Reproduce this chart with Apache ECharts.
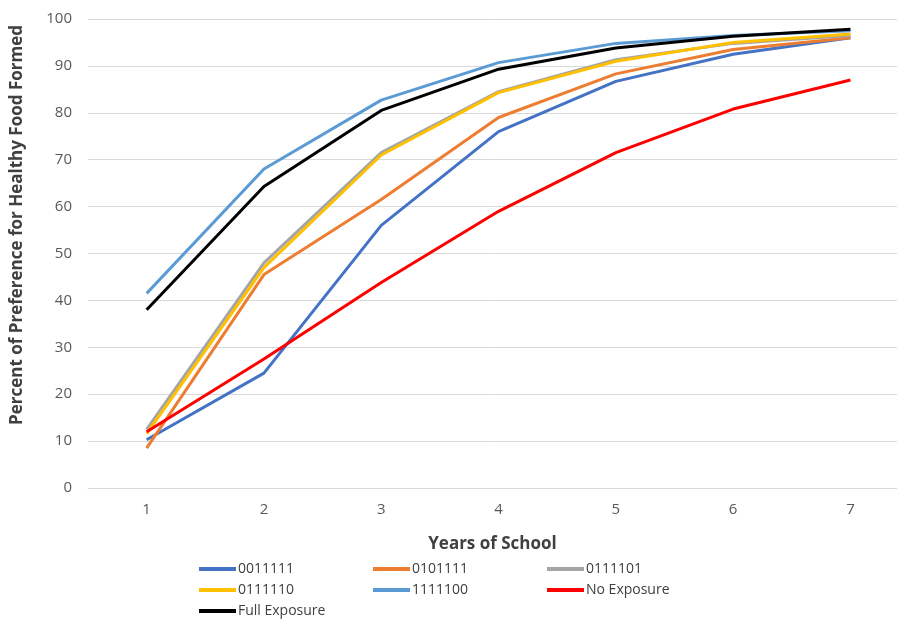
<!DOCTYPE html>
<html>
<head>
<meta charset="utf-8">
<script src="https://cdn.jsdelivr.net/npm/echarts@6/dist/echarts.min.js"></script>
<style>html,body{margin:0;padding:0;background:#fff}#c{width:897px;height:621px}</style>
</head>
<body>
<div id="c"></div>
<script>
const years = [1, 2, 3, 4, 5, 6, 7];
const yTicks = [0, 10, 20, 30, 40, 50, 60, 70, 80, 90, 100];
const s0011111 = [10.3, 24.5, 56.0, 76.0, 86.7, 92.5, 96.0];
const s0101111 = [8.5, 45.5, 61.5, 79.0, 88.3, 93.5, 96.0];
const s0111101 = [12.5, 48.0, 71.5, 84.5, 91.3, 94.8, 96.5];
const s0111110 = [11.6, 47.0, 71.0, 84.3, 91.0, 95.0, 96.8];
const s1111100 = [41.5, 68.0, 82.7, 90.7, 94.8, 96.5, 97.5];
const sNoExposure = [12.0, 27.5, 43.8, 59.0, 71.5, 80.8, 87.0];
const sFullExposure = [38.0, 64.3, 80.5, 89.3, 93.8, 96.3, 97.8];

const names = ['0011111', '0101111', '0111101', '0111110', '1111100', 'No Exposure', 'Full Exposure'];
const values = [s0011111, s0101111, s0111101, s0111110, s1111100, sNoExposure, sFullExposure];
const colors = ['#4472C4', '#ED7D31', '#A5A5A5', '#FFC000', '#5B9BD5', '#FF0000', '#000000'];

const font = '"Open Sans", "Noto Sans", sans-serif';
const legendBase = {
  orient: 'vertical', top: 561, padding: 0, itemGap: 5, icon: 'rect', itemWidth: 37, itemHeight: 4,
  textStyle: { fontFamily: font, fontSize: 14, lineHeight: 16, color: '#404040', padding: [0, 0, 0, -3] }
};

// plot area: x from 0.5 (left edge at 88px) with 117.3px per year, clipped at the right page edge
const W = 897, gridLeft = 88, perYear = 117.3;
const xMax = 0.5 + (W - gridLeft) / perYear;

const chart = echarts.init(document.getElementById('c'), null, { renderer: 'canvas' });
chart.setOption({
  animation: false,
  color: colors,
  grid: { left: gridLeft, top: 19, right: 0, height: 469, containLabel: false },
  xAxis: {
    type: 'value', min: 0.5, max: xMax,
    name: 'Years of School', nameLocation: 'middle', nameGap: 48,
    nameTextStyle: { fontFamily: font, fontSize: 17, fontWeight: 'bold', color: '#404040' },
    axisLine: { show: true, lineStyle: { color: '#D9D9D9', width: 1 } },
    axisTick: { show: false },
    splitLine: { show: false },
    axisLabel: { fontFamily: font, fontSize: 15, color: '#595959', margin: 14, customValues: years,
                 formatter: v => String(v) }
  },
  yAxis: {
    type: 'value', min: yTicks[0], max: yTicks[yTicks.length - 1], interval: 10,
    axisLine: { show: false }, axisTick: { show: false },
    axisLabel: { fontFamily: font, fontSize: 15, color: '#595959', margin: 16 },
    splitLine: { lineStyle: { color: '#D9D9D9', width: 1 } }
  },
  graphic: [{
    type: 'text', x: 17, y: 225, rotation: Math.PI / 2,
    style: {
      text: 'Percent of Preference for Healthy Food Formed',
      font: 'bold 17px "Open Sans", "Noto Sans", sans-serif', fill: '#404040',
      align: 'center', verticalAlign: 'middle'
    }
  }],
  legend: [
    Object.assign({}, legendBase, { left: 199, data: ['0011111', '0111110', 'Full Exposure'] }),
    Object.assign({}, legendBase, { left: 373, data: ['0101111', '1111100'] }),
    Object.assign({}, legendBase, { left: 547, data: ['0111101', 'No Exposure'] })
  ],
  series: names.map((n, i) => ({
    name: n, type: 'line', data: years.map((x, j) => [x, values[i][j]]), symbol: 'none',
    lineStyle: { width: 3, color: colors[i] }, itemStyle: { color: colors[i] }
  }))
});
</script>
</body>
</html>
